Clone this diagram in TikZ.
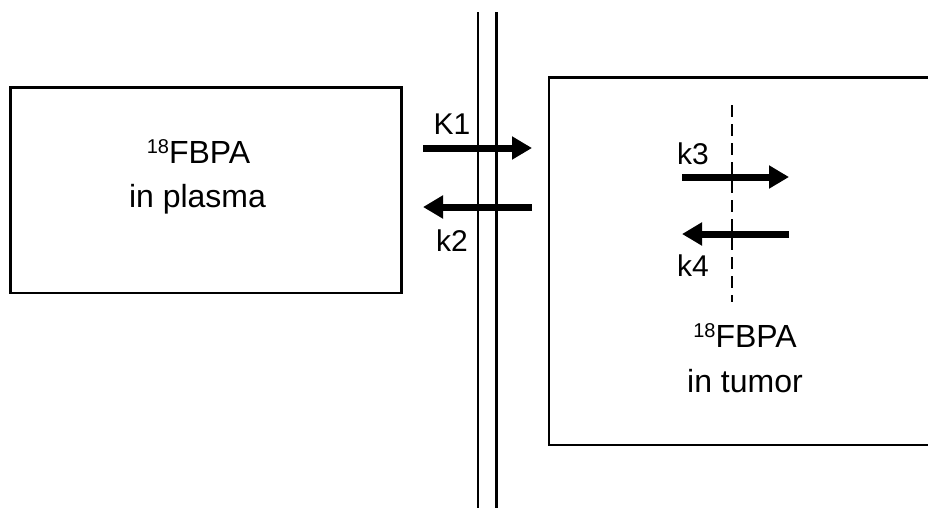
\documentclass[tikz,border=0pt]{standalone}
\usepackage{fontspec}
\setmainfont{Liberation Sans}
\usetikzlibrary{arrows.meta}
\newcommand\isotop{{\fontsize{20}{20}\selectfont\raisebox{10pt}{18}}}
\begin{document}
\begin{tikzpicture}[x=1pt,y=-1pt,
  box/.style={draw,line width=2.5pt,inner sep=0pt},
  memline/.style={line width=2.2pt},
  flux/.style={line width=7pt,-{Triangle[length=20pt,width=22pt]}},
  divline/.style={line width=2.5pt,dash pattern=on 12pt off 7pt},
  lbl/.style={font=\fontsize{30}{36}\selectfont,anchor=base,inner sep=0pt},
  txt/.style={font=\fontsize{32}{38}\selectfont,anchor=base,inner sep=0pt}]
\useasboundingbox (0,0) rectangle (928,507);
\clip (0,0) rectangle (928,507);
% compartments
\node[box,minimum width=391pt,minimum height=205.5pt] (plasma) at (206,190.25) {};
\node[box,minimum width=391pt,minimum height=367.7pt] (tumor) at (744.5,261.2) {};
% membrane
\coordinate (m1t) at (478,12); \coordinate (m1b) at (478,510);
\coordinate (m2t) at (496.5,12); \coordinate (m2b) at (496.5,510);
\draw[memline] (m1t) -- (m1b);
\draw[memline] (m2t) -- (m2b);
% dashed divider
\coordinate (dt) at (732,105); \coordinate (db) at (732,302);
\draw[divline] (dt) -- (db);
% transport arrows
\coordinate (k1s) at (423,148); \coordinate (k1e) at (532,148);
\coordinate (k2s) at (532,207); \coordinate (k2e) at (423,207);
\coordinate (k3s) at (682,177); \coordinate (k3e) at (789,177);
\coordinate (k4s) at (789,234); \coordinate (k4e) at (682,234);
\draw[flux] (k1s) -- (k1e);
\draw[flux] (k2s) -- (k2e);
\draw[flux] (k3s) -- (k3e);
\draw[flux] (k4s) -- (k4e);
% rate labels
\node[lbl] (K1) at (452,134) {K1};
\node[lbl] (k2) at (452,251) {k2};
\node[lbl] (k3) at (693,164) {k3};
\node[lbl] (k4) at (693,276) {k4};
% compartment texts
\node[txt] (p1) at (198.5,163) {\isotop FBPA};
\node[txt] (p2) at (197.5,207) {in plasma};
\node[txt] (t1) at (745,347) {\isotop FBPA};
\node[txt] (t2) at (745,392) {in tumor};
\end{tikzpicture}
\end{document}
